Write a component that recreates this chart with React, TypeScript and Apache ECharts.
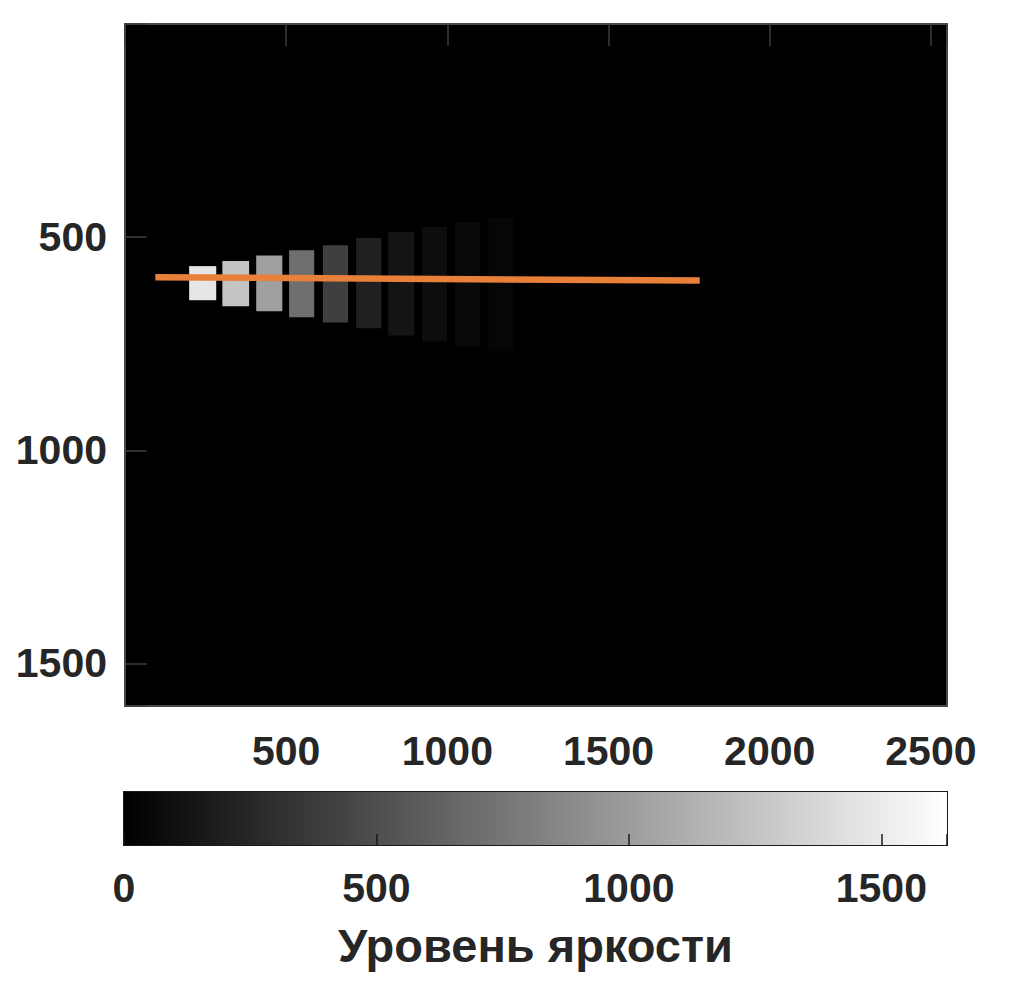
import React, { useEffect, useRef } from "react";
import * as echarts from "echarts";

// ---- data (image coordinates, pixels of the sensor image) ----
const patchX0 = [199, 302, 407, 509, 614, 717, 816, 922, 1024, 1127];
const patchX1 = [283, 385, 488, 587, 692, 795, 897, 999, 1101, 1204];
const patchY0 = [568, 556, 543, 531, 519, 502, 488, 476, 465, 453];
const patchY1 = [648, 662, 674, 688, 700, 714, 731, 745, 757, 768];
const patchLevel = [1470, 1253, 1023, 703, 400, 205, 128, 82, 56, 40];

const profileX = [94, 1783];
const profileY = [594, 602];

const imageXMax = 2550;
const imageYMax = 1600;
const colorMax = 1630;
const xTicks = [0, 500, 1000, 1500, 2000, 2500];
const yTicks = [0, 500, 1000, 1500];
const cbTicks = [0, 500, 1000, 1500];
const colorbarTitle = "Уровень яркости";

const FONT = "'Liberation Sans', Arial, sans-serif";
const TXT = "#262626";
const TICK = 11;

function grayOf(v: number) {
  const g = Math.max(0, Math.min(255, Math.round((v / colorMax) * 255)));
  return `rgb(${g},${g},${g})`;
}

export default function App() {
  const ref = useRef<HTMLDivElement>(null);
  useEffect(() => {
    if (!ref.current) return;
    const chart = echarts.init(ref.current, undefined, { renderer: "svg" });

    const patches = patchX0.map((x0, i) => [x0, patchX1[i], patchY0[i], patchY1[i], patchLevel[i]]);
    const profile = profileX.map((x, i) => [x, profileY[i]]);

    const labelStyle = { fontFamily: FONT, fontWeight: "bold" as const, fontSize: 41, color: TXT };
    // ticks are drawn "outside" of an axis shifted inward by the tick length,
    // so that they end on the frame and point into the plot
    const tickStyle = { show: true, length: TICK, lineStyle: { color: "#3c3c3c", width: 1.5 } };
    const common = { axisLine: { show: false }, splitLine: { show: false }, offset: -TICK, z: 10 };

    chart.setOption({
      animation: false,
      backgroundColor: "#ffffff",
      grid: [
        {
          left: 125, top: 24, width: 822, height: 682,
          show: true, backgroundColor: "#000000", borderColor: "#4a4a4a", borderWidth: 2,
        },
        {
          left: 124, top: 792, width: 823, height: 53,
          show: true, backgroundColor: "transparent", borderColor: "#1a1a1a", borderWidth: 2,
        },
      ],
      xAxis: [
        {
          gridIndex: 0, type: "value", min: 0, max: imageXMax, interval: 500, position: "bottom",
          ...common, axisTick: tickStyle,
          axisLabel: {
            ...labelStyle, margin: 24 + TICK,
            formatter: (v: number) => (v === 0 || !xTicks.includes(v) ? "" : String(v)),
          },
        },
        {
          gridIndex: 0, type: "value", min: 0, max: imageXMax, interval: 500, position: "top",
          ...common, axisTick: tickStyle,
          axisLabel: { show: false },
        },
        {
          gridIndex: 1, type: "value", min: 0, max: colorMax, interval: 500, position: "bottom",
          ...common,
          axisTick: { show: true, length: TICK, lineStyle: { color: "#1a1a1a", width: 1.5 } },
          axisLabel: {
            ...labelStyle, margin: 22 + TICK,
            formatter: (v: number) => (cbTicks.includes(v) ? String(v) : ""),
          },
          name: colorbarTitle, nameLocation: "middle", nameGap: 77 + TICK,
          nameTextStyle: { fontFamily: FONT, fontWeight: "bold", fontSize: 47, color: TXT },
        },
      ],
      yAxis: [
        {
          gridIndex: 0, type: "value", min: 0, max: imageYMax, interval: 500, inverse: true, position: "left",
          ...common, axisTick: tickStyle,
          axisLabel: {
            ...labelStyle, margin: 18 + TICK,
            formatter: (v: number) => (v === 0 || !yTicks.includes(v) ? "" : String(v)),
          },
        },
        {
          gridIndex: 0, type: "value", min: 0, max: imageYMax, interval: 500, inverse: true, position: "right",
          ...common, axisTick: tickStyle,
          axisLabel: { show: false },
        },
        {
          gridIndex: 1, type: "value", min: 0, max: 1,
          axisLine: { show: false }, splitLine: { show: false }, axisTick: { show: false }, axisLabel: { show: false },
        },
      ],
      series: [
        {
          type: "custom",
          xAxisIndex: 0, yAxisIndex: 0,
          data: patches,
          renderItem: (_p: any, api: any) => {
            const a = api.coord([api.value(0), api.value(2)]);
            const b = api.coord([api.value(1), api.value(3)]);
            return {
              type: "rect",
              shape: {
                x: Math.min(a[0], b[0]), y: Math.min(a[1], b[1]),
                width: Math.abs(b[0] - a[0]), height: Math.abs(b[1] - a[1]),
              },
              style: { fill: grayOf(api.value(4)) },
            };
          },
          z: 1,
        },
        {
          type: "line",
          xAxisIndex: 0, yAxisIndex: 0,
          data: profile,
          showSymbol: false, symbol: "none",
          lineStyle: { color: "#E8803A", width: 6.5 },
          z: 5,
        },
        {
          type: "custom",
          xAxisIndex: 2, yAxisIndex: 2,
          data: [[0, colorMax]],
          renderItem: (_p: any, api: any) => {
            const a = api.coord([api.value(0), 0]);
            const b = api.coord([api.value(1), 1]);
            return {
              type: "rect",
              shape: { x: a[0], y: b[1], width: b[0] - a[0], height: a[1] - b[1] },
              style: {
                fill: new echarts.graphic.LinearGradient(0, 0, 1, 0, [
                  { offset: 0, color: "#000000" },
                  { offset: 1, color: "#ffffff" },
                ]),
              },
            };
          },
          z: 0,
        },
      ],
    });
    return () => chart.dispose();
  }, []);
  return <div ref={ref} style={{ position: "fixed", left: 0, top: 0, width: 1024, height: 996 }} />;
}
